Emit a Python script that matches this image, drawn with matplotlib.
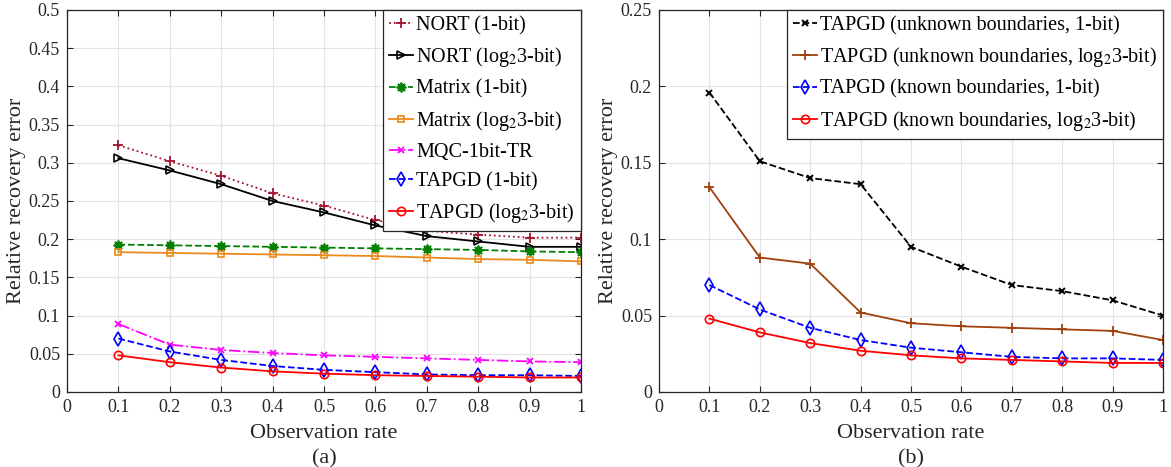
import matplotlib
matplotlib.use('Agg')
import matplotlib.pyplot as plt
import numpy as np

plt.rcParams['font.family'] = ['Liberation Serif', 'DejaVu Serif']
plt.rcParams['mathtext.fontset'] = 'stix'

###############################################################
# data
###############################################################
rate = [0.1, 0.2, 0.3, 0.4, 0.5, 0.6, 0.7, 0.8, 0.9, 1.0]

# panel (a)
nort_1 = [0.323, 0.302, 0.283, 0.260, 0.244, 0.225, 0.211, 0.206, 0.202, 0.202]
nort_log = [0.306, 0.290, 0.272, 0.250, 0.235, 0.218, 0.204, 0.197, 0.190, 0.190]
matrix_1 = [0.193, 0.192, 0.191, 0.190, 0.189, 0.188, 0.187, 0.186, 0.184, 0.183]
matrix_log = [0.183, 0.182, 0.181, 0.180, 0.179, 0.178, 0.176, 0.174, 0.173, 0.171]
mqc = [0.089, 0.062, 0.055, 0.051, 0.048, 0.046, 0.044, 0.042, 0.040, 0.039]
tapgd_1 = [0.070, 0.053, 0.042, 0.034, 0.029, 0.026, 0.023, 0.022, 0.022, 0.021]
tapgd_log = [0.048, 0.039, 0.032, 0.027, 0.024, 0.022, 0.021, 0.020, 0.019, 0.019]

# panel (b)
unk_1 = [0.196, 0.151, 0.140, 0.136, 0.095, 0.082, 0.070, 0.066, 0.060, 0.050]
unk_log = [0.134, 0.088, 0.084, 0.052, 0.045, 0.043, 0.042, 0.041, 0.040, 0.034]
known_1 = [0.070, 0.054, 0.042, 0.034, 0.029, 0.026, 0.023, 0.022, 0.022, 0.021]
known_log = [0.048, 0.039, 0.032, 0.027, 0.024, 0.022, 0.021, 0.020, 0.019, 0.019]

xticks = [0, 0.1, 0.2, 0.3, 0.4, 0.5, 0.6, 0.7, 0.8, 0.9, 1]
xtick_labels = ['0', '0.1', '0.2', '0.3', '0.4', '0.5', '0.6', '0.7', '0.8', '0.9', '1']
yticks_a = [0, 0.05, 0.1, 0.15, 0.2, 0.25, 0.3, 0.35, 0.4, 0.45, 0.5]
ytick_labels_a = ['0', '0.05', '0.1', '0.15', '0.2', '0.25', '0.3', '0.35', '0.4', '0.45', '0.5']
yticks_b = [0, 0.05, 0.1, 0.15, 0.2, 0.25]
ytick_labels_b = ['0', '0.05', '0.1', '0.15', '0.2', '0.25']

LOG = r'log$_2$3-bit'

##################################################
# figure
##################################################
fig = plt.figure(figsize=(11.71, 4.67), dpi=100)
ax_a = fig.add_axes([0.0572, 0.1606, 0.4390, 0.8180])
ax_b = fig.add_axes([0.5628, 0.1606, 0.4304, 0.8180])

lw = 1.3
ms = 6
dark = '#262626'
asterisk = (8, 2, 0)  # MATLAB-like '*' marker


def style_axes(ax, yticks, ylabels):
    ax.set_xlim(0, 1)
    ax.set_ylim(yticks[0], yticks[-1])
    ax.set_xticks(xticks)
    ax.set_xticklabels(xtick_labels)
    ax.set_yticks(yticks)
    ax.set_yticklabels(ylabels)
    ax.grid(True, color='#e3e3e3', linewidth=0.8)
    ax.set_axisbelow(True)
    ax.tick_params(direction='in', top=True, right=True, length=4,
                   labelsize=13, colors=dark, labelcolor=dark, pad=5)
    for s in ax.spines.values():
        s.set_color(dark)
        s.set_linewidth(0.9)
    ax.set_xlabel('Observation rate', fontsize=16, color=dark, labelpad=6)
    ax.set_ylabel('Relative recovery error', fontsize=16, color=dark, labelpad=2)


def style_legend(ax):
    leg = ax.legend(loc='upper right', borderaxespad=0, fontsize=14.5, handlelength=1.2,
                    handletextpad=0.15, borderpad=0.3, labelspacing=0.5, fancybox=False,
                    framealpha=1)
    leg.get_frame().set_edgecolor(dark)
    leg.get_frame().set_linewidth(0.9)


##################################################
# plot (a)
##################################################
ax_a.plot(rate, nort_1, color='#A2142F', linestyle=':', marker='+', lw=lw, ms=ms + 1,
          mew=1.3, label='NORT (1-bit)')
ax_a.plot(rate, nort_log, color='black', linestyle='-', marker='>', lw=lw, ms=ms,
          mfc='none', mew=1.2, label='NORT (' + LOG + ')')
ax_a.plot(rate, matrix_1, color='#008000', linestyle='--', marker=asterisk, lw=lw, ms=ms + 1,
          mew=1.3, label='Matrix (1-bit)')
ax_a.plot(rate, matrix_log, color='#EA8A1C', linestyle='-', marker='s', lw=lw, ms=ms - 1,
          mfc='none', mew=1.2, label='Matrix (' + LOG + ')')
ax_a.plot(rate, mqc, color='#FF00FF', linestyle='-.', marker='x', lw=lw, ms=ms - 1,
          mew=1.3, label='MQC-1bit-TR')
ax_a.plot(rate, tapgd_1, color='blue', linestyle='--', marker='d', lw=lw, ms=ms + 1,
          mfc='none', mew=1.2, label='TAPGD (1-bit)')
ax_a.plot(rate, tapgd_log, color='red', linestyle='-', marker='o', lw=lw, ms=ms,
          mfc='none', mew=1.2, label='TAPGD (' + LOG + ')')
style_axes(ax_a, yticks_a, ytick_labels_a)
style_legend(ax_a)

##################################################
# plot (b)
##################################################
ax_b.plot(rate, unk_1, color='black', linestyle='--', marker='x', lw=lw, ms=ms - 1,
          mew=1.4, label='TAPGD (unknown boundaries, 1-bit)')
ax_b.plot(rate, unk_log, color='#A0410D', linestyle='-', marker='+', lw=lw, ms=ms + 1,
          mew=1.3, label='TAPGD (unknown boundaries, ' + LOG + ')')
ax_b.plot(rate, known_1, color='blue', linestyle='--', marker='d', lw=lw, ms=ms + 1,
          mfc='none', mew=1.2, label='TAPGD (known boundaries, 1-bit)')
ax_b.plot(rate, known_log, color='red', linestyle='-', marker='o', lw=lw, ms=ms,
          mfc='none', mew=1.2, label='TAPGD (known boundaries, ' + LOG + ')')
style_axes(ax_b, yticks_b, ytick_labels_b)
style_legend(ax_b)

##################################################
# captions
##################################################
for ax, cap in [(ax_a, '(a)'), (ax_b, '(b)')]:
    ax.text(0.5, -0.15, cap, transform=ax.transAxes, ha='center', va='top',
            fontsize=16, color=dark)

fig.savefig('out.png', dpi=100)
